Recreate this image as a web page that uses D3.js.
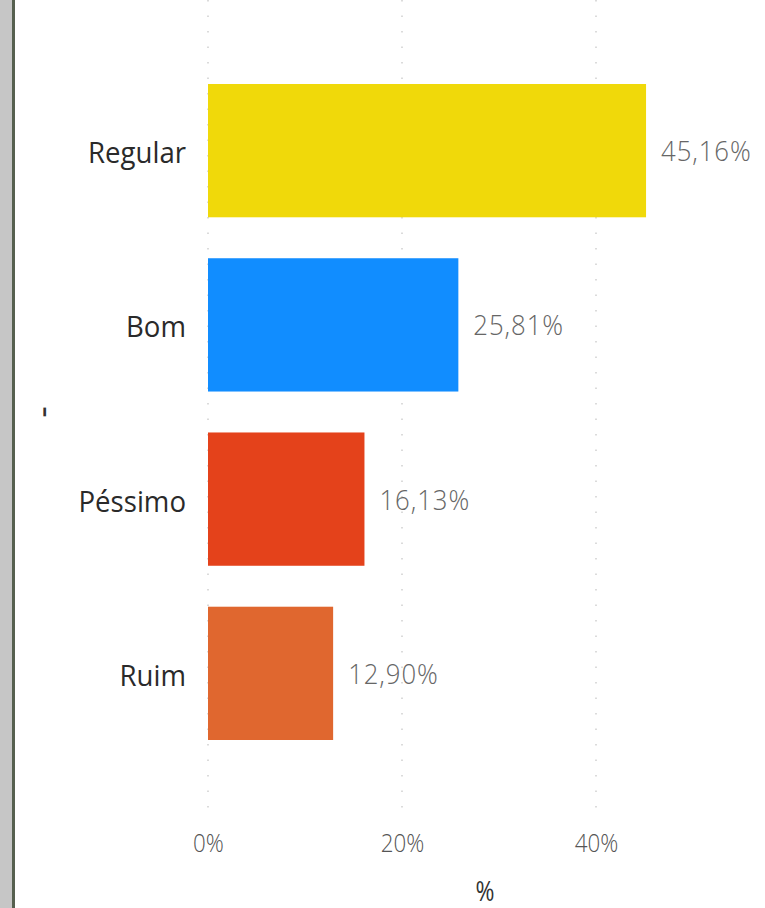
<!DOCTYPE html>
<html>
<head>
<meta charset="utf-8">
<script src="https://cdn.jsdelivr.net/npm/d3@7/dist/d3.min.js"></script>
<style>
  html, body { margin: 0; padding: 0; background: #fff; }
  svg { display: block; }
  text { font-family: "Open Sans", "Noto Sans", sans-serif; }
</style>
</head>
<body>
<svg id="chart" width="765" height="908"></svg>
<script>
const categories = ["Regular", "Bom", "Péssimo", "Ruim"];
const values = [45.16, 25.81, 16.13, 12.90];
const valueLabels = ["45,16%", "25,81%", "16,13%", "12,90%"];
const colors = ["#F0D90A", "#118DFF", "#E4421B", "#E0672F"];
const tickValues = [0, 20, 40];
const tickLabels = ["0%", "20%", "40%"];
const xTitle = "%";
const yTitle = "-";

const svg = d3.select("#chart");
const W = 765, H = 908;

// left frame border
svg.append("rect").attr("x", 0).attr("y", 0).attr("width", 12).attr("height", H).attr("fill", "#c6c6c6");
svg.append("rect").attr("x", 12).attr("y", 0).attr("width", 3).attr("height", H).attr("fill", "#56604f");

const x = d3.scaleLinear().domain([0, 50]).range([208, 693]);
const y = d3.scaleBand().domain(categories).range([84, 740]).paddingInner(0.235).paddingOuter(0);

// gridlines
svg.append("g").selectAll("line").data(tickValues).join("line")
  .attr("x1", d => x(d)).attr("x2", d => x(d))
  .attr("y1", 0).attr("y2", 815)
  .attr("stroke", "#cfcfcf").attr("stroke-width", 1.5)
  .attr("stroke-dasharray", "1.5,14");

// bars
const data = categories.map((c, i) => ({c, v: values[i], label: valueLabels[i], color: colors[i]}));
svg.append("g").selectAll("rect").data(data).join("rect")
  .attr("x", x(0)).attr("y", d => y(d.c))
  .attr("width", d => x(d.v) - x(0)).attr("height", y.bandwidth())
  .attr("fill", d => d.color);

// value labels
svg.append("g").selectAll("g").data(data).join("g")
  .attr("transform", d => `translate(${x(d.v) + 15},${y(d.c) + y.bandwidth() / 2 + 3})`)
  .append("text")
  .attr("transform", "scale(0.92,1)")
  .attr("dominant-baseline", "middle")
  .attr("font-size", 28).attr("font-weight", 300).attr("fill", "#666")
  .attr("letter-spacing", 1)
  .text(d => d.label);

// category labels
const yAxis = d3.axisLeft(y).tickSize(0).tickPadding(0);
const gy = svg.append("g").attr("transform", "translate(186,0)").call(yAxis);
gy.select(".domain").remove();
gy.selectAll("text").attr("font-size", 30).attr("fill", "#2a2a2a")
  .attr("font-family", "'Open Sans', sans-serif").attr("dy", "0.42em")
  .attr("transform", "scale(0.92,1)");

// x axis ticks
const xAxis = d3.axisBottom(x).tickValues(tickValues).tickFormat((d, i) => tickLabels[i]).tickSize(0).tickPadding(0);
const gx = svg.append("g").attr("transform", "translate(0,843)").call(xAxis);
gx.select(".domain").remove();
gx.selectAll("text").attr("font-size", 26).attr("font-weight", 300).attr("fill", "#555")
  .attr("font-family", "'Open Sans', sans-serif").attr("dy", "0.35em")
  .attr("transform", "scale(0.86,1)");

// axis titles
svg.append("g").attr("transform", "translate(485,901)")
  .append("text").attr("transform", "scale(0.85,1)").attr("text-anchor", "middle")
  .attr("font-size", 27).attr("fill", "#333").text(xTitle);
svg.append("text").attr("transform", "translate(45,412) rotate(-90)").attr("text-anchor", "middle")
  .attr("dominant-baseline", "middle")
  .attr("font-size", 36).attr("fill", "#333").text(yTitle);
</script>
</body>
</html>
